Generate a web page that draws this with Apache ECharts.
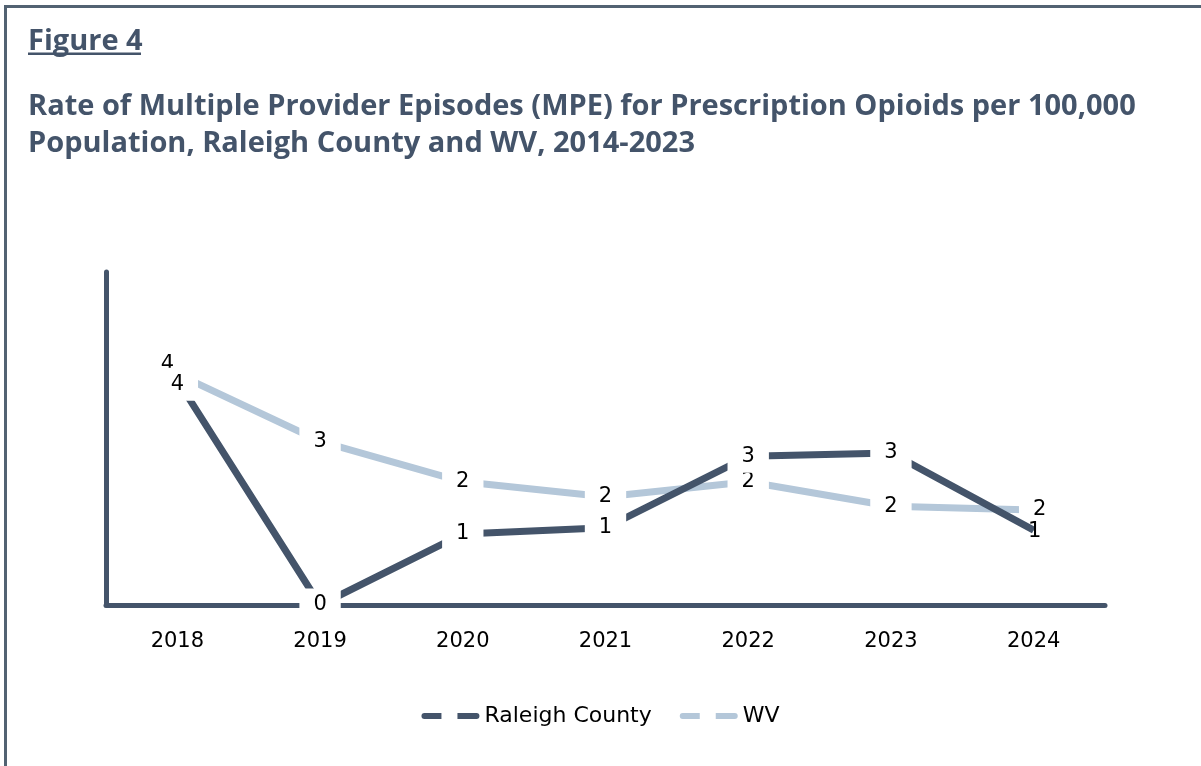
<!DOCTYPE html>
<html>
<head>
<meta charset="utf-8">
<script src="https://cdn.jsdelivr.net/npm/echarts@6/dist/echarts.min.js"></script>
<style>
  html, body { margin: 0; padding: 0; background: #fff; }
  #chart { width: 1201px; height: 766px; }
</style>
</head>
<body>
<div id="chart"></div>
<script>
var years = ['2018', '2019', '2020', '2021', '2022', '2023', '2024'];
var raleigh = [4.05, 0, 1.28, 1.39, 2.68, 2.74, 1.35];
var wv = [4.16, 2.95, 2.22, 1.95, 2.22, 1.78, 1.71];

var darkColor = '#44546a';
var lightColor = '#b4c7d9';
var bodyFont = '"DejaVu Sans", sans-serif';
var titleFont = 'bold 29px "Open Sans", sans-serif';

function labelStyle(){
    return {
        show: true,
        position: 'inside',
        color: '#000',
        fontSize: 21,
        fontFamily: bodyFont,
        backgroundColor: '#fff',
        padding: [6, 14],
        formatter: function(p){ return Math.round(p.value); }
    };
}

// overlapping labels get nudged apart like in the figure
var wvData = wv.map(function(v, i){
    if (i === 0) return { value: v, label: { offset: [-10, -10], backgroundColor: 'transparent' } };
    if (i === 6) return { value: v, label: { offset: [6, -1] } };
    return v;
});
var raleighData = raleigh.map(function(v, i){
    if (i === 0) return { value: v, label: { offset: [0, 4] } };
    if (i === 6) return { value: v, label: { offset: [1, 1], backgroundColor: 'transparent', padding: [0, 2] } };
    return v;
});

var option = {
    animation: false,
    graphic: [
        {
            type: 'rect',
            shape: { x: 5.5, y: 6.5, width: 1210, height: 780 },
            style: { fill: 'none', stroke: '#526272', lineWidth: 3 }
        },
        {
            type: 'text', x: 28, y: 42,
            style: { text: 'Figure 4', fill: darkColor, font: titleFont, verticalAlign: 'middle' }
        },
        {
            type: 'rect',
            shape: { x: 28, y: 52.5, width: 113, height: 2.5 },
            style: { fill: darkColor }
        },
        {
            type: 'text', x: 28, y: 107,
            style: {
                text: 'Rate of Multiple Provider Episodes (MPE) for Prescription Opioids per 100,000',
                fill: darkColor, font: titleFont, verticalAlign: 'middle'
            }
        },
        {
            type: 'text', x: 28, y: 144,
            style: {
                text: 'Population, Raleigh County and WV, 2014-2023',
                fill: darkColor, font: titleFont, verticalAlign: 'middle'
            }
        }
    ],
    legend: {
        bottom: 34,
        left: 'center',
        itemWidth: 58,
        itemHeight: 6,
        itemGap: 28,
        icon: 'path://M3,0h17v6h-17a3,3 0 0 1 0,-6z M36,0h19a3,3 0 0 1 0,6h-19z',
        textStyle: { color: '#000', fontSize: 22, fontFamily: bodyFont },
        data: ['Raleigh County', 'WV']
    },
    grid: { left: 106, right: 96, top: 272, bottom: 161 },
    xAxis: {
        type: 'category',
        data: years,
        boundaryGap: true,
        axisLine: { lineStyle: { color: darkColor, width: 5 } },
        axisTick: { show: false },
        axisLabel: { color: '#000', fontSize: 21, margin: 26, fontFamily: bodyFont }
    },
    yAxis: {
        type: 'value',
        min: 0,
        max: 6,
        interval: 1,
        axisLine: { show: true, lineStyle: { color: darkColor, width: 5 } },
        axisTick: { show: false },
        axisLabel: { show: false },
        splitLine: { show: false }
    },
    series: [
        {
            name: 'Raleigh County',
            type: 'line',
            data: raleighData,
            symbol: 'circle',
            symbolSize: 1,
            lineStyle: { color: darkColor, width: 7 },
            itemStyle: { color: darkColor },
            label: labelStyle(),
            z: 3
        },
        {
            name: 'WV',
            type: 'line',
            data: wvData,
            symbol: 'circle',
            symbolSize: 1,
            lineStyle: { color: lightColor, width: 7 },
            itemStyle: { color: lightColor },
            label: labelStyle(),
            z: 2
        }
    ]
};

var myChart = echarts.init(document.getElementById('chart'));
myChart.setOption(option);
</script>
</body>
</html>
